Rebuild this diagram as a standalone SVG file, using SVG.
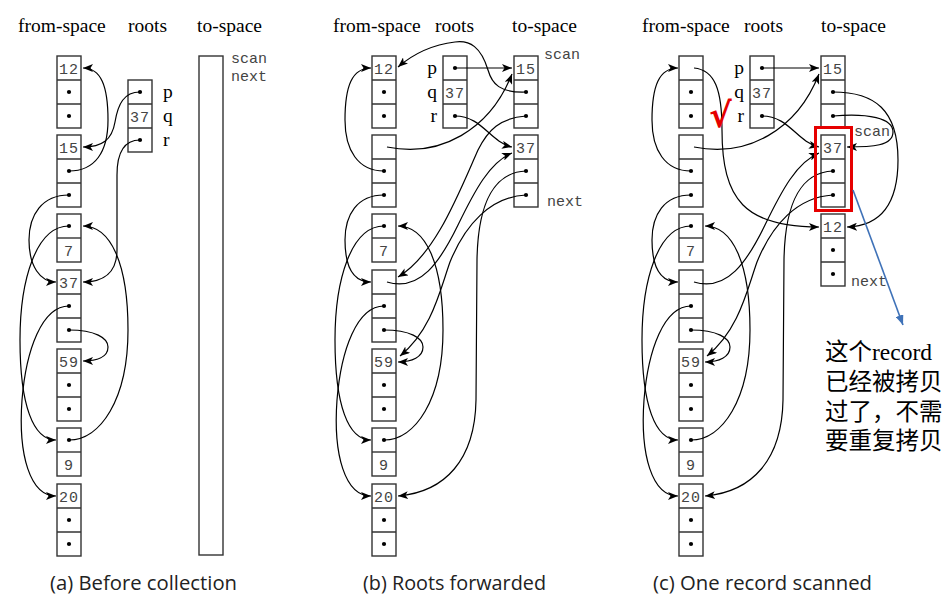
<svg xmlns="http://www.w3.org/2000/svg" width="952" height="600" viewBox="0 0 952 600">
<style>
.box{fill:#fff;stroke:#333;stroke-width:1.4}
.div{fill:none;stroke:#333;stroke-width:1.4}
.num{font-family:"Liberation Mono",monospace;font-size:15px;fill:#444;text-anchor:middle;letter-spacing:1px}
.dot{fill:#000}
.hdr{font-family:"Liberation Serif",serif;font-size:19.5px;fill:#000}
.lbl{font-family:"Liberation Serif",serif;font-size:19.5px;fill:#000}
.ptr{font-family:"Liberation Mono",monospace;font-size:15px;fill:#444}
.cap{font-family:"Open Sans","Noto Sans",sans-serif;font-size:19.5px;fill:#222}
.c{fill:none;stroke:#000;stroke-width:1.2;marker-end:url(#ah)}
.note{font-family:"Liberation Serif","Noto Sans CJK SC",serif;font-size:23.5px;fill:#000}
</style>
<defs>
<marker id="ah" viewBox="0 0 10 8" refX="10" refY="4" markerWidth="10" markerHeight="8" markerUnits="userSpaceOnUse" orient="auto"><path d="M0,0 L10,4 L0,8 L2.5,4 z" fill="#000"/></marker>
<marker id="bh" viewBox="0 0 10 8" refX="10" refY="4" markerWidth="10" markerHeight="8" markerUnits="userSpaceOnUse" orient="auto"><path d="M0,0 L10,4 L0,8 z" fill="#3f72b8"/></marker>
</defs>
<rect width="952" height="600" fill="#fff"/>

<!-- headers -->
<g id="headers">
<text class="hdr" x="18" y="32">from-space</text>
<text class="hdr" x="128" y="32">roots</text>
<text class="hdr" x="197" y="32">to-space</text>
<text class="hdr" x="333" y="32">from-space</text>
<text class="hdr" x="435" y="32">roots</text>
<text class="hdr" x="512" y="32">to-space</text>
<text class="hdr" x="642" y="32">from-space</text>
<text class="hdr" x="744" y="32">roots</text>
<text class="hdr" x="821" y="32">to-space</text>
</g>

<!-- ===== Panel (a) ===== -->
<g id="a-f12" transform="translate(57,56)"><rect class="box" width="24" height="72"/><path class="div" d="M0,24H24M0,48H24"/><text class="num" x="12" y="17.5">12</text><circle class="dot" cx="12" cy="36" r="2.1"/><circle class="dot" cx="12" cy="60" r="2.1"/></g>
<g id="a-f15" transform="translate(57,135)"><rect class="box" width="24" height="72"/><path class="div" d="M0,24H24M0,48H24"/><text class="num" x="12" y="17.5">15</text><circle class="dot" cx="12" cy="36" r="2.1"/><circle class="dot" cx="12" cy="60" r="2.1"/></g>
<g id="a-f7" transform="translate(57,214)"><rect class="box" width="24" height="48"/><path class="div" d="M0,24H24"/><circle class="dot" cx="12" cy="12" r="2.1"/><text class="num" x="12" y="41.5">7</text></g>
<g id="a-f37" transform="translate(57,270)"><rect class="box" width="24" height="72"/><path class="div" d="M0,24H24M0,48H24"/><text class="num" x="12" y="17.5">37</text><circle class="dot" cx="12" cy="36" r="2.1"/><circle class="dot" cx="12" cy="60" r="2.1"/></g>
<g id="a-f59" transform="translate(57,349)"><rect class="box" width="24" height="72"/><path class="div" d="M0,24H24M0,48H24"/><text class="num" x="12" y="17.5">59</text><circle class="dot" cx="12" cy="36" r="2.1"/><circle class="dot" cx="12" cy="60" r="2.1"/></g>
<g id="a-f9" transform="translate(57,428)"><rect class="box" width="24" height="48"/><path class="div" d="M0,24H24"/><circle class="dot" cx="12" cy="12" r="2.1"/><text class="num" x="12" y="41.5">9</text></g>
<g id="a-f20" transform="translate(57,484)"><rect class="box" width="24" height="72"/><path class="div" d="M0,24H24M0,48H24"/><text class="num" x="12" y="17.5">20</text><circle class="dot" cx="12" cy="36" r="2.1"/><circle class="dot" cx="12" cy="60" r="2.1"/></g>
<g id="a-roots" transform="translate(128,80)"><rect class="box" width="24" height="72"/><path class="div" d="M0,24H24M0,48H24"/><circle class="dot" cx="12" cy="12" r="2.1"/><text class="num" x="12" y="41.5">37</text><circle class="dot" cx="12" cy="60" r="2.1"/>
<text class="lbl" x="35" y="17.5">p</text><text class="lbl" x="35" y="41.5">q</text><text class="lbl" x="35" y="65.5">r</text></g>
<g id="a-to"><rect class="box" x="199" y="56" width="24" height="499"/><text class="ptr" x="231" y="63">scan</text><text class="ptr" x="231" y="81">next</text></g>

<!-- ===== Panel (b) ===== -->
<g id="b-f12" transform="translate(372,56)"><rect class="box" width="24" height="72"/><path class="div" d="M0,24H24M0,48H24"/><text class="num" x="12" y="17.5">12</text><circle class="dot" cx="12" cy="36" r="2.1"/><circle class="dot" cx="12" cy="60" r="2.1"/></g>
<g id="b-f15" transform="translate(372,135)"><rect class="box" width="24" height="72"/><path class="div" d="M0,24H24M0,48H24"/><circle class="dot" cx="12" cy="36" r="2.1"/><circle class="dot" cx="12" cy="60" r="2.1"/></g>
<g id="b-f7" transform="translate(372,214)"><rect class="box" width="24" height="48"/><path class="div" d="M0,24H24"/><circle class="dot" cx="12" cy="12" r="2.1"/><text class="num" x="12" y="41.5">7</text></g>
<g id="b-f37" transform="translate(372,270)"><rect class="box" width="24" height="72"/><path class="div" d="M0,24H24M0,48H24"/><circle class="dot" cx="12" cy="36" r="2.1"/><circle class="dot" cx="12" cy="60" r="2.1"/></g>
<g id="b-f59" transform="translate(372,349)"><rect class="box" width="24" height="72"/><path class="div" d="M0,24H24M0,48H24"/><text class="num" x="12" y="17.5">59</text><circle class="dot" cx="12" cy="36" r="2.1"/><circle class="dot" cx="12" cy="60" r="2.1"/></g>
<g id="b-f9" transform="translate(372,428)"><rect class="box" width="24" height="48"/><path class="div" d="M0,24H24"/><circle class="dot" cx="12" cy="12" r="2.1"/><text class="num" x="12" y="41.5">9</text></g>
<g id="b-f20" transform="translate(372,484)"><rect class="box" width="24" height="72"/><path class="div" d="M0,24H24M0,48H24"/><text class="num" x="12" y="17.5">20</text><circle class="dot" cx="12" cy="36" r="2.1"/><circle class="dot" cx="12" cy="60" r="2.1"/></g>
<g id="b-roots" transform="translate(443,56)"><rect class="box" width="24" height="72"/><path class="div" d="M0,24H24M0,48H24"/><circle class="dot" cx="12" cy="12" r="2.1"/><text class="num" x="12" y="41.5">37</text><circle class="dot" cx="12" cy="60" r="2.1"/>
<text class="lbl" x="-6" y="17.5" text-anchor="end">p</text><text class="lbl" x="-6" y="41.5" text-anchor="end">q</text><text class="lbl" x="-6" y="65.5" text-anchor="end">r</text></g>
<g id="b-t15" transform="translate(514,56)"><rect class="box" width="24" height="72"/><path class="div" d="M0,24H24M0,48H24"/><text class="num" x="12" y="17.5">15</text><circle class="dot" cx="12" cy="36" r="2.1"/><circle class="dot" cx="12" cy="60" r="2.1"/></g>
<g id="b-t37" transform="translate(514,135)"><rect class="box" width="24" height="72"/><path class="div" d="M0,24H24M0,48H24"/><text class="num" x="12" y="17.5">37</text><circle class="dot" cx="12" cy="36" r="2.1"/><circle class="dot" cx="12" cy="60" r="2.1"/></g>
<g id="b-ptrs"><text class="ptr" x="544" y="59">scan</text><text class="ptr" x="547" y="206">next</text></g>

<!-- ===== Panel (c) ===== -->
<g id="c-f12" transform="translate(679,56)"><rect class="box" width="24" height="72"/><path class="div" d="M0,24H24M0,48H24"/><circle class="dot" cx="12" cy="36" r="2.1"/><circle class="dot" cx="12" cy="60" r="2.1"/></g>
<g id="c-f15" transform="translate(679,135)"><rect class="box" width="24" height="72"/><path class="div" d="M0,24H24M0,48H24"/><circle class="dot" cx="12" cy="36" r="2.1"/><circle class="dot" cx="12" cy="60" r="2.1"/></g>
<g id="c-f7" transform="translate(679,214)"><rect class="box" width="24" height="48"/><path class="div" d="M0,24H24"/><circle class="dot" cx="12" cy="12" r="2.1"/><text class="num" x="12" y="41.5">7</text></g>
<g id="c-f37" transform="translate(679,270)"><rect class="box" width="24" height="72"/><path class="div" d="M0,24H24M0,48H24"/><circle class="dot" cx="12" cy="36" r="2.1"/><circle class="dot" cx="12" cy="60" r="2.1"/></g>
<g id="c-f59" transform="translate(679,349)"><rect class="box" width="24" height="72"/><path class="div" d="M0,24H24M0,48H24"/><text class="num" x="12" y="17.5">59</text><circle class="dot" cx="12" cy="36" r="2.1"/><circle class="dot" cx="12" cy="60" r="2.1"/></g>
<g id="c-f9" transform="translate(679,428)"><rect class="box" width="24" height="48"/><path class="div" d="M0,24H24"/><circle class="dot" cx="12" cy="12" r="2.1"/><text class="num" x="12" y="41.5">9</text></g>
<g id="c-f20" transform="translate(679,484)"><rect class="box" width="24" height="72"/><path class="div" d="M0,24H24M0,48H24"/><text class="num" x="12" y="17.5">20</text><circle class="dot" cx="12" cy="36" r="2.1"/><circle class="dot" cx="12" cy="60" r="2.1"/></g>
<g id="c-roots" transform="translate(750,56)"><rect class="box" width="24" height="72"/><path class="div" d="M0,24H24M0,48H24"/><circle class="dot" cx="12" cy="12" r="2.1"/><text class="num" x="12" y="41.5">37</text><circle class="dot" cx="12" cy="60" r="2.1"/>
<text class="lbl" x="-6" y="17.5" text-anchor="end">p</text><text class="lbl" x="-6" y="41.5" text-anchor="end">q</text><text class="lbl" x="-6" y="65.5" text-anchor="end">r</text></g>
<g id="c-t15" transform="translate(821,56)"><rect class="box" width="24" height="72"/><path class="div" d="M0,24H24M0,48H24"/><text class="num" x="12" y="17.5">15</text><circle class="dot" cx="12" cy="36" r="2.1"/><circle class="dot" cx="12" cy="60" r="2.1"/></g>
<g id="c-t37" transform="translate(821,135)"><rect class="box" width="24" height="72"/><path class="div" d="M0,24H24M0,48H24"/><text class="num" x="12" y="17.5">37</text><circle class="dot" cx="12" cy="36" r="2.1"/><circle class="dot" cx="12" cy="60" r="2.1"/></g>
<g id="c-t12" transform="translate(821,214)"><rect class="box" width="24" height="72"/><path class="div" d="M0,24H24M0,48H24"/><text class="num" x="12" y="17.5">12</text><circle class="dot" cx="12" cy="36" r="2.1"/><circle class="dot" cx="12" cy="60" r="2.1"/></g>
<g id="c-ptrs"><text class="ptr" x="854" y="136">scan</text><text class="ptr" x="851" y="286">next</text></g>

<!-- connectors -->
<g id="connectors">
<!-- (a) -->
<path class="c" d="M69,171 C95,171 108,152 108,120 C108,86 101,68 83,68"/>
<path class="c" d="M140,92 C124,92 118,104 115,122 C112,140 102,147 83,147"/>
<path class="c" d="M69,195 C42,195 29,215 29,240 C29,266 40,282 56,282"/>
<path class="c" d="M140,140 C124,140 117,152 117,175 L117,250 C117,272 104,282 83,282"/>
<path class="c" d="M69,226 C36,226 20,280 20,340 C20,405 33,440 56,440"/>
<path class="c" d="M69,306 C42,306 26,350 22,400 C18,455 30,496 56,496"/>
<path class="c" d="M69,440 C100,440 128,400 128,330 C128,262 110,226 83,226"/>
<path class="c" d="M69,330 C95,330 108,338 108,347 C108,357 97,361 83,361"/>
<!-- (b) -->
<path class="c" d="M387,147 C440,158 490,130 512,74"/>
<path class="c" d="M384,171 C358,171 345,150 345,120 C345,86 352,68 371,68"/>
<path class="c" d="M384,195 C357,195 345,215 345,240 C345,266 352,282 371,282"/>
<path class="c" d="M455,68 L512,68"/>
<path class="c" d="M455,116 C482,116 490,142 512,147"/>
<path class="c" d="M526,92 C500,93 492,84 488,70 C481,47 470,40 455,42 C430,45 412,55 398,67"/>
<path class="c" d="M526,116 C500,118 488,130 478,150 C458,195 435,255 398,277"/>
<path class="c" d="M387,282 C420,292 440,262 458,225 C475,190 490,162 512,153"/>
<path class="c" d="M526,171 C496,172 478,200 477,260 L476,400 C475,460 445,492 398,496"/>
<path class="c" d="M526,195 C490,197 465,225 450,262 C440,290 432,330 400,356"/>
<path class="c" d="M384,226 C351,226 335,280 335,340 C335,405 348,440 371,440"/>
<path class="c" d="M384,306 C357,306 341,350 337,400 C333,455 345,496 371,496"/>
<path class="c" d="M384,440 C415,440 443,400 443,330 C443,262 425,226 398,226"/>
<path class="c" d="M384,330 C410,330 423,338 423,347 C423,357 412,362 398,362"/>
<!-- (c) -->
<path class="c" d="M694,68 C715,70 722,90 722,130 C722,200 745,227 819,227"/>
<path class="c" d="M694,147 C747,158 797,130 819,74"/>
<path class="c" d="M691,171 C665,171 652,150 652,120 C652,86 659,68 678,68"/>
<path class="c" d="M691,195 C664,195 652,215 652,240 C652,266 659,282 678,282"/>
<path class="c" d="M762,68 L819,68"/>
<path class="c" d="M762,116 C789,116 797,142 819,147"/>
<path class="c" d="M833,92 C875,92 898,110 898,160 C898,205 880,226 847,227"/>
<path class="c" d="M833,116 C868,113 893,118 893,132 C893,146 872,147 847,147"/>
<path class="c" d="M694,282 C727,292 747,262 765,225 C782,190 797,162 819,153"/>
<path class="c" d="M833,171 C803,172 785,200 784,260 L783,400 C782,460 752,492 705,496"/>
<path class="c" d="M833,195 C797,197 772,225 757,262 C747,290 739,330 707,356"/>
<path class="c" d="M691,226 C658,226 642,280 642,340 C642,405 655,440 678,440"/>
<path class="c" d="M691,306 C664,306 648,350 644,400 C640,455 652,496 678,496"/>
<path class="c" d="M691,440 C722,440 750,400 750,330 C750,262 732,226 705,226"/>
<path class="c" d="M691,330 C717,330 730,338 730,347 C730,357 719,362 705,362"/>
</g>

<!-- annotations -->
<g id="annotation">
<rect x="815.5" y="127.5" width="36" height="83" fill="none" stroke="#e60000" stroke-width="3"/>
<text x="709" y="127" font-family="DejaVu Sans,sans-serif" font-size="34" font-weight="bold" fill="#e60000">√</text>
<path d="M853,190 L903,325" fill="none" stroke="#3f72b8" stroke-width="1.6" marker-end="url(#bh)"/>
<text class="note" x="825" y="360">这个record</text>
<text class="note" x="825" y="390">已经被拷贝</text>
<text class="note" x="825" y="420">过了，不需</text>
<text class="note" x="825" y="449">要重复拷贝</text>
</g>

<!-- captions -->
<g id="captions">
<text class="cap" x="50" y="590" textLength="187" lengthAdjust="spacingAndGlyphs">(a) Before collection</text>
<text class="cap" x="363" y="590" textLength="183" lengthAdjust="spacingAndGlyphs">(b) Roots forwarded</text>
<text class="cap" x="653" y="590" textLength="219" lengthAdjust="spacingAndGlyphs">(c) One record scanned</text>
</g>
</svg>
